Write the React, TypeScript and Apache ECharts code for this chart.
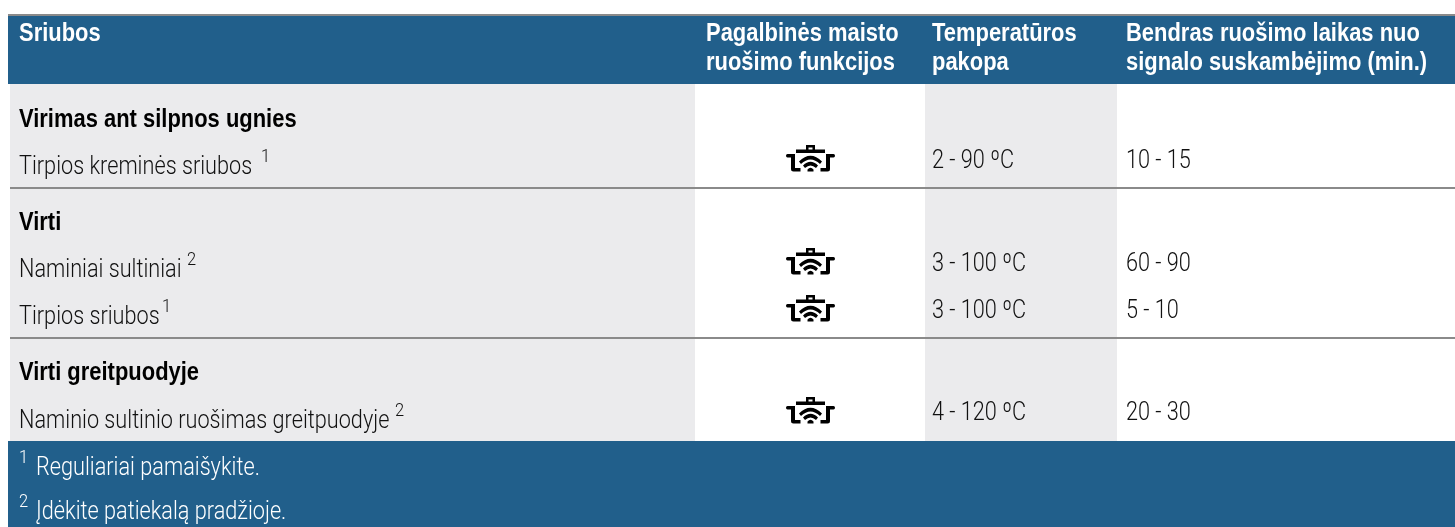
import React, { useEffect, useRef } from "react";
import * as echarts from "echarts";

const BLUE = "#215f8b";
const GREY = "#ebebed";
const LINE = "#8a8a8a";
const BOLD = '"Liberation Sans", Arial, sans-serif';
const LIGHT = 'Roboto, "Liberation Sans", sans-serif';

const headers = [
  ["Sriubos"],
  ["Pagalbinės maisto", "ruošimo funkcijos"],
  ["Temperatūros", "pakopa"],
  ["Bendras ruošimo laikas nuo", "signalo suskambėjimo (min.)"],
];
const groupLabels = ["Virimas ant silpnos ugnies", "Virti", "Virti greitpuodyje"];
const rowNames = [
  "Tirpios kreminės sriubos",
  "Naminiai sultiniai",
  "Tirpios sriubos",
  "Naminio sultinio ruošimas greitpuodyje",
];
const rowNotes = ["1", "2", "1", "2"];
const rowTemps = ["2 - 90 ºC", "3 - 100 ºC", "3 - 100 ºC", "4 - 120 ºC"];
const rowTimes = ["10 - 15", "60 - 90", "5 - 10", "20 - 30"];
const footnotes = ["Reguliariai pamaišykite.", "Įdėkite patiekalą pradžioje."];

const POT =
  "M20 0H29V5H26.5V2.5H22.5V5H20Z M10 4.5H39V8H10Z " +
  "M1.5 9H9V23H14.5V26.5H7.5Q5 26.5 5 24V12.5H1.5Q0 12.5 0 10.75Q0 9 1.5 9Z " +
  "M47.5 9H40V23H34.5V26.5H41.5Q44 26.5 44 24V12.5H47.5Q49 12.5 49 10.75Q49 9 47.5 9Z " +
  "M13 16.5Q24.5 5 36 16.5L34 19Q24.5 10 15 19Z " +
  "M17 20.5Q24.5 13 32 20.5L30 23Q24.5 18 19 23Z " +
  "M21.5 26.5V24.5Q24.5 21 27.5 24.5V26.5Z";
echarts.graphic.registerShape("pot", echarts.graphic.extendPath(POT as any, {}) as any);

const nameY = [165, 268, 315, 419];
const valueY = [159, 262, 309, 411];
const groupY = [118, 221, 371];
const noteX = [261, 187, 162, 395];
const colX = [19, 706, 932, 1126];
const SX_LIGHT = 0.868;
const SX_BOLD = 0.878;

function txt(x: number, y: number, text: string, size: number, fill: string, bold = false) {
  return {
    type: "text",
    x,
    y,
    scaleX: bold ? SX_BOLD : SX_LIGHT,
    style: {
      text,
      fontFamily: bold ? BOLD : LIGHT,
      fontSize: size,
      fontWeight: bold ? "bold" : 300,
      fill,
      verticalAlign: "middle",
    },
  };
}
function rect(x: number, y: number, width: number, height: number, fill: string) {
  return { type: "rect", shape: { x, y, width, height }, style: { fill } };
}

export default function App() {
  const ref = useRef<HTMLDivElement>(null);
  useEffect(() => {
    const chart = echarts.init(ref.current!, undefined, { renderer: "svg" });
    const els: any[] = [
      rect(10, 84, 685, 357, GREY),
      rect(925, 84, 192, 357, GREY),
      rect(8, 16, 1447, 68, BLUE),
      rect(8, 14, 1447, 2, LINE),
      rect(10, 187, 1445, 2, LINE),
      rect(10, 337, 1445, 2, LINE),
      rect(8, 441, 1447, 86, BLUE),
    ];
    headers.forEach((lines, c) =>
      lines.forEach((l, i) => els.push(txt(colX[c], 32 + i * 29, l, 25, "#fff", true)))
    );
    groupLabels.forEach((g, i) => els.push(txt(19, groupY[i], g, 25, "#000", true)));
    rowNames.forEach((n, i) => {
      els.push(txt(19, nameY[i], n, 25, "#111"));
      els.push(txt(noteX[i], nameY[i] - 10, rowNotes[i], 19, "#111"));
      els.push({ type: "pot", x: 786, y: valueY[i] - 14, style: { fill: "#000" } });
      els.push(txt(colX[2], valueY[i], rowTemps[i], 25, "#111"));
      els.push(txt(colX[3], valueY[i], rowTimes[i], 25, "#111"));
    });
    footnotes.forEach((f, i) => {
      els.push(txt(19, 456 + i * 44, String(i + 1), 19, "#fff"));
      els.push(txt(36, 466 + i * 44, f, 25, "#fff"));
    });
    chart.setOption({ animation: false, graphic: { elements: els } });
    return () => chart.dispose();
  }, []);
  return <div ref={ref} style={{ position: "fixed", left: 0, top: 0, width: 1455, height: 527 }} />;
}
